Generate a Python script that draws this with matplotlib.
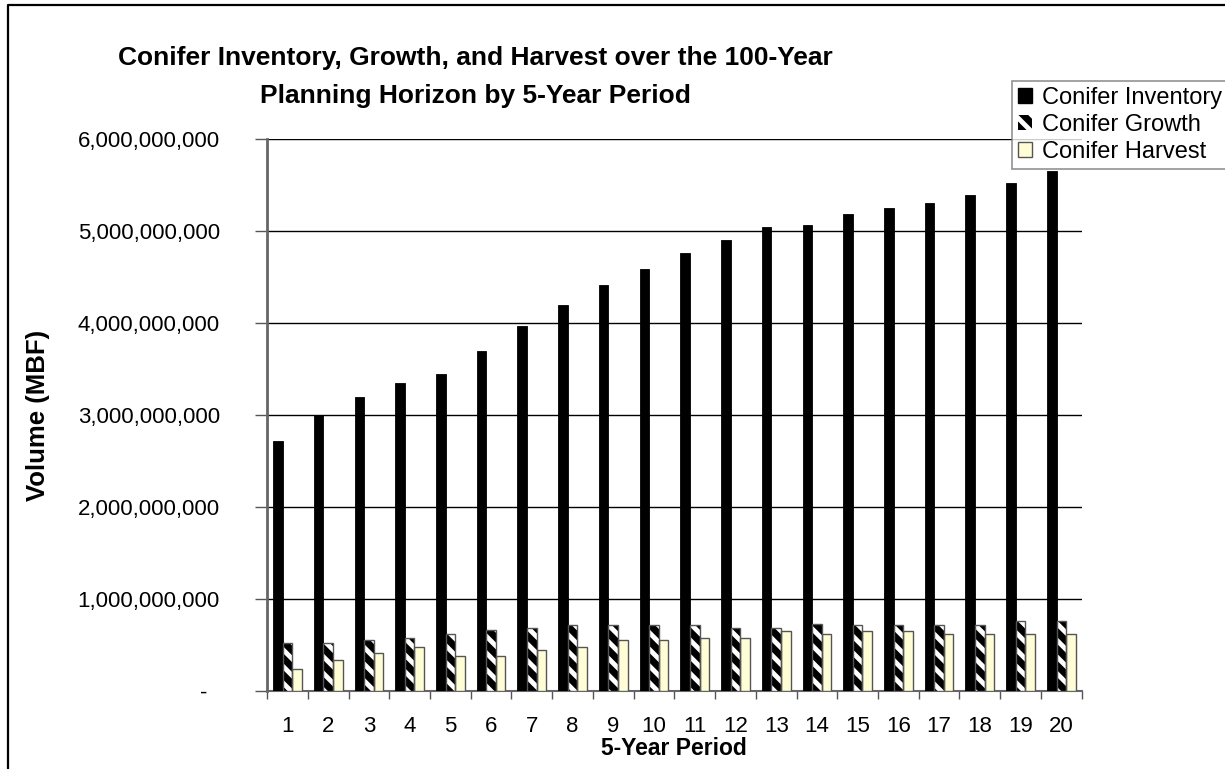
import numpy as np
import matplotlib.pyplot as plt
from matplotlib.lines import Line2D
from matplotlib.ticker import FuncFormatter, FixedLocator

plt.rcParams['font.family'] = ['Liberation Sans', 'DejaVu Sans']
plt.rcParams['hatch.linewidth'] = 3.5

# conifer volumes (MBF) by 5-year period
periods = [str(p) for p in range(1, 21)]
inventory = [2.72e9, 3.00e9, 3.20e9, 3.35e9, 3.45e9, 3.70e9, 3.97e9, 4.20e9, 4.41e9, 4.59e9,
             4.76e9, 4.90e9, 5.04e9, 5.07e9, 5.18e9, 5.25e9, 5.31e9, 5.39e9, 5.52e9, 5.65e9]
growth = [0.52e9, 0.52e9, 0.55e9, 0.58e9, 0.62e9, 0.66e9, 0.69e9, 0.72e9, 0.72e9, 0.72e9,
          0.72e9, 0.69e9, 0.69e9, 0.73e9, 0.72e9, 0.72e9, 0.72e9, 0.72e9, 0.76e9, 0.76e9]
harvest = [0.24e9, 0.34e9, 0.41e9, 0.48e9, 0.38e9, 0.38e9, 0.45e9, 0.48e9, 0.55e9, 0.55e9,
           0.58e9, 0.58e9, 0.65e9, 0.62e9, 0.65e9, 0.65e9, 0.62e9, 0.62e9, 0.62e9, 0.62e9]

fig = plt.figure(figsize=(12.25, 7.69), dpi=100)
ax = fig.add_axes([0.218, 0.1014, 0.665, 0.7178])

x = np.arange(len(periods))
w = 0.235
ax.bar(x - w, inventory, w, color='black', edgecolor='black', linewidth=0.6, zorder=3)
# growth: black with white diagonal dashes, then a grey outline on top
ax.bar(x, growth, w, color='black', edgecolor='white', hatch='\\\\', linewidth=0, zorder=3)
ax.bar(x, growth, w, color='none', edgecolor='#555555', linewidth=1.0, zorder=4)
ax.bar(x + w, harvest, w, color='#FFFDD6', edgecolor='#555555', linewidth=1.0, zorder=3)

ax.set_xlim(-0.5, len(periods) - 0.5)
ax.set_ylim(0, 6e9)
ax.set_yticks(np.arange(0, 6.1e9, 1e9))
ax.yaxis.set_major_formatter(FuncFormatter(lambda v, p: '-  ' if v == 0 else f'{v:,.0f}'))
ax.yaxis.grid(True, color='black', linewidth=1.0, zorder=0)

ax.set_xticks(x)
ax.set_xticklabels(periods)
ax.xaxis.set_minor_locator(FixedLocator(np.arange(-0.5, len(periods), 1)))
ax.tick_params(axis='x', which='major', length=0, pad=18, labelsize=16)
ax.tick_params(axis='x', which='minor', length=6, width=1.0, color='#555555', direction='out')
ax.tick_params(axis='y', length=9, width=1.0, color='#555555', pad=25, labelsize=16)

for s in ['top', 'right']:
    ax.spines[s].set_visible(False)
ax.spines['left'].set_color('#666666')
ax.spines['left'].set_linewidth(2)
ax.spines['bottom'].set_color('#666666')
ax.spines['bottom'].set_linewidth(1.5)

ax.set_xlabel('5-Year Period', fontsize=16.5, fontweight='bold', labelpad=0)
ax.set_ylabel('Volume (MBF)', fontsize=18.5, fontweight='bold', labelpad=20)

fig.text(0.388, 0.9, 'Conifer Inventory, Growth, and Harvest over the 100-Year\nPlanning Horizon by 5-Year Period',
         ha='center', va='center', fontsize=19, fontweight='bold', linespacing=1.75)

handles = [
    plt.Rectangle((0, 0), 1, 1, facecolor='black', edgecolor='black'),
    plt.Rectangle((0, 0), 1, 1, facecolor='black', edgecolor='white', hatch='\\\\', linewidth=0),
    plt.Rectangle((0, 0), 1, 1, facecolor='#FFFDD6', edgecolor='#555555'),
]
leg = fig.legend(handles, ['Conifer Inventory', 'Conifer Growth', 'Conifer Harvest'],
                 loc='upper left', bbox_to_anchor=(1012 / 1225, 1 - 81 / 769),
                 fontsize=17, frameon=True, fancybox=False, handlelength=0.6, handleheight=0.6,
                 handletextpad=0.4, labelspacing=0.22, borderpad=0.25, borderaxespad=0)
leg.get_frame().set_edgecolor('#777777')
leg.get_frame().set_linewidth(1.2)

# outer chart border, left and top edges
fig.add_artist(Line2D([8 / 1225, 8 / 1225, 1.0], [0, 1 - 5 / 769, 1 - 5 / 769],
                      transform=fig.transFigure, color='black', linewidth=1.6))

plt.savefig('out.png', dpi=100)
